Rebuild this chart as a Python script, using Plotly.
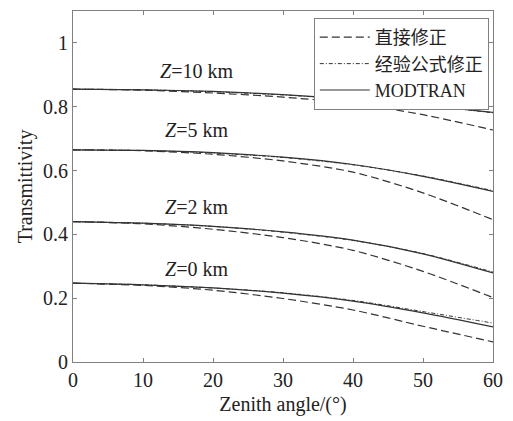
import plotly.graph_objects as go

angles = [0, 10, 20, 30, 40, 50, 60]

# MODTRAN
modtran_z10 = [0.855, 0.853, 0.848, 0.838, 0.823, 0.805, 0.782]
modtran_z5 = [0.665, 0.663, 0.656, 0.642, 0.619, 0.582, 0.535]
modtran_z2 = [0.440, 0.435, 0.425, 0.408, 0.382, 0.339, 0.279]
modtran_z0 = [0.247, 0.242, 0.232, 0.216, 0.191, 0.154, 0.110]

# 直接修正
direct_z10 = [0.855, 0.852, 0.843, 0.830, 0.810, 0.775, 0.727]
direct_z5 = [0.665, 0.662, 0.651, 0.630, 0.595, 0.530, 0.446]
direct_z2 = [0.440, 0.433, 0.416, 0.390, 0.350, 0.284, 0.202]
direct_z0 = [0.247, 0.240, 0.225, 0.199, 0.163, 0.112, 0.063]

# 经验公式修正
empir_z10 = [0.855, 0.853, 0.847, 0.837, 0.822, 0.804, 0.781]
empir_z5 = [0.665, 0.663, 0.655, 0.641, 0.618, 0.583, 0.537]
empir_z2 = [0.440, 0.435, 0.425, 0.407, 0.381, 0.340, 0.282]
empir_z0 = [0.247, 0.242, 0.232, 0.217, 0.193, 0.158, 0.122]

labels = ["<i>Z</i>=10 km", "<i>Z</i>=5 km", "<i>Z</i>=2 km", "<i>Z</i>=0 km"]
label_y = [0.912, 0.726, 0.486, 0.290]
label_x = [17.7, 17.7, 17.7, 17.7]

series_names = ["直接修正", "经验公式修正", "MODTRAN"]

groups = [
    (direct_z10, empir_z10, modtran_z10),
    (direct_z5, empir_z5, modtran_z5),
    (direct_z2, empir_z2, modtran_z2),
    (direct_z0, empir_z0, modtran_z0),
]

styles = [
    dict(dash="8px,4px", width=1.2, color="#333333"),
    dict(dash="4px,2px,1px,2px", width=1.0, color="#333333"),
    dict(dash="solid", width=1.2, color="#333333"),
]

SERIF = "Liberation Serif, Noto Sans CJK SC, serif"
TXT = "#222222"

fig = go.Figure()
for gi, grp in enumerate(groups):
    for si, vals in enumerate(grp):
        fig.add_trace(go.Scatter(
            x=angles, y=vals, mode="lines",
            line=dict(shape="spline", smoothing=0.8, **styles[si]),
            name=series_names[si],
            legendgroup=series_names[si],
            showlegend=(gi == 0),
        ))

for t, xx, yy in zip(labels, label_x, label_y):
    fig.add_annotation(x=xx, y=yy, text=t, showarrow=False,
                       font=dict(family=SERIF, size=20, color=TXT))

axis_common = dict(
    showline=True, linecolor="#808080", linewidth=1.2, mirror="ticks",
    ticks="inside", ticklen=4, tickcolor="#808080",
    showgrid=False, zeroline=False,
    tickfont=dict(family=SERIF, size=20, color=TXT),
)

fig.update_layout(
    width=513, height=421,
    margin=dict(l=73, r=12, t=10, b=59),
    plot_bgcolor="white", paper_bgcolor="white",
    xaxis=dict(range=[0, 60], tickvals=[0, 10, 20, 30, 40, 50, 60],
               title=dict(text="Zenith angle/(°)", font=dict(family=SERIF, size=20, color=TXT), standoff=6),
               **axis_common),
    yaxis=dict(range=[0, 1.1], tickvals=[0, 0.2, 0.4, 0.6, 0.8, 1],
               ticktext=["0", "0.2", "0.4", "0.6", "0.8", "1"],
               title=dict(text="Transmittivity", font=dict(family=SERIF, size=20, color=TXT), standoff=4),
               **axis_common),
    legend=dict(x=0.99, y=0.98, xanchor="right", yanchor="top",
                bordercolor="#808080", borderwidth=1, bgcolor="white",
                font=dict(family=SERIF, size=18, color=TXT),
                tracegroupgap=0, itemwidth=50),
    showlegend=True,
)

fig.write_html("out.html")
